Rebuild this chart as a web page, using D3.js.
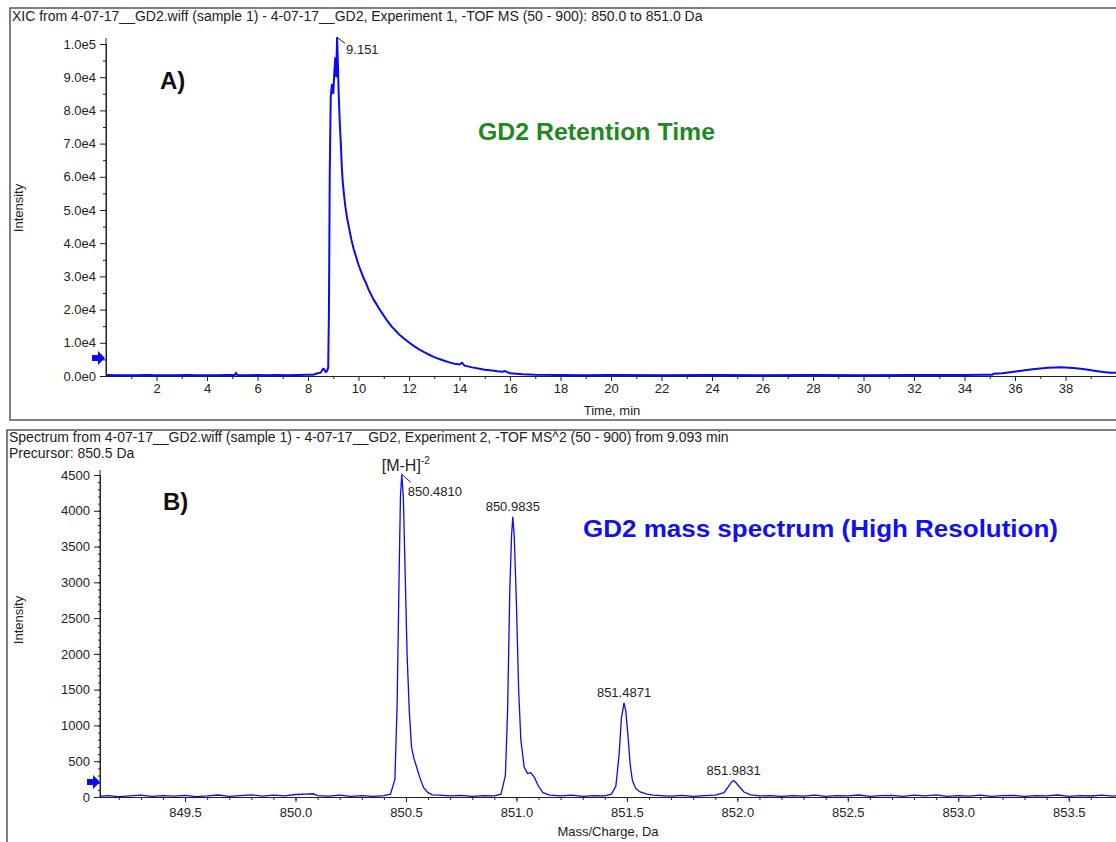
<!DOCTYPE html>
<html>
<head>
<meta charset="utf-8">
<script src="https://cdn.jsdelivr.net/npm/d3@7"></script>
<style>
body { margin: 0; background: #fff; }
svg text { font-family: "Liberation Sans", Arial, sans-serif; fill: #222; }
.axis path, .axis line { stroke: #222; }
.axis text { font-size: 13px; fill: #222; }
</style>
</head>
<body>
<svg id="chart" width="1116" height="842"></svg>
<script>
// XIC (cromatograma) - tiempo en minutos e intensidad
var xicTime = [0.02, 0.4, 0.8, 1.2, 1.6, 2.0, 2.4, 2.8, 3.2, 3.6, 4.0, 4.4, 4.8, 5.1, 5.15, 5.2, 5.6, 6.0, 6.4, 6.8, 7.2, 7.6, 8.0, 8.2, 8.3, 8.4, 8.5, 8.55, 8.6, 8.65, 8.7, 8.75, 8.8, 8.83, 8.86, 8.9, 8.95, 9.0, 9.04, 9.08, 9.12, 9.151, 9.18, 9.22, 9.26, 9.3, 9.34, 9.37, 9.42, 9.48, 9.55, 9.64, 9.72, 9.8, 9.9, 10.0, 10.1, 10.2, 10.3, 10.4, 10.5, 10.6, 10.7, 10.8, 10.9, 11.0, 11.15, 11.3, 11.45, 11.6, 11.8, 12.0, 12.2, 12.4, 12.6, 12.8, 13.0, 13.2, 13.4, 13.6, 13.8, 14.0, 14.1, 14.2, 14.5, 14.8, 15.0, 15.2, 15.5, 15.7, 15.8, 16.0, 16.5, 17.0, 18.0, 19.0, 20.0, 22.0, 24.0, 26.0, 28.0, 30.0, 32.0, 34.0, 34.8, 35.1, 35.15, 35.5, 35.8, 36.1, 36.4, 36.7, 37.0, 37.3, 37.6, 37.8, 38.0, 38.3, 38.6, 38.9, 39.2, 39.5, 39.8, 40.0];
var xicIntensity = [300, 200, 250, 200, 300, 200, 250, 200, 300, 250, 200, 250, 300, 300, 900, 300, 250, 300, 250, 300, 250, 300, 350, 400, 600, 900, 1000, 1600, 2200, 2000, 1200, 1500, 2500, 20000, 60000, 84000, 88000, 85000, 91000, 96000, 90000, 102000, 95000, 84000, 76000, 70000, 63000, 59000, 55000, 51000, 47500, 44000, 41000, 38500, 36000, 33500, 31500, 29500, 28000, 26000, 24500, 23000, 21800, 20500, 19300, 18200, 16500, 15000, 13800, 12600, 11300, 10100, 9000, 8000, 7200, 6400, 5700, 5100, 4600, 4100, 3700, 3500, 4000, 3100, 2600, 2200, 1900, 1700, 1400, 1300, 1500, 800, 500, 350, 300, 250, 300, 250, 300, 250, 300, 250, 300, 300, 350, 400, 700, 850, 1100, 1400, 1700, 2000, 2250, 2450, 2550, 2600, 2550, 2400, 2150, 1850, 1500, 1200, 1000, 950];
var xicXTicks = [2, 4, 6, 8, 10, 12, 14, 16, 18, 20, 22, 24, 26, 28, 30, 32, 34, 36, 38];
var xicYTicks = [0, 10000, 20000, 30000, 40000, 50000, 60000, 70000, 80000, 90000, 100000];
var xicYLabels = ["0.0e0", "1.0e4", "2.0e4", "3.0e4", "4.0e4", "5.0e4", "6.0e4", "7.0e4", "8.0e4", "9.0e4", "1.0e5"];
var xicApex = 9.151, xicApexInt = 102000, xicThreshold = 5400;

// espectro de masas - m/z e intensidad
var specMz = [849.115, 849.15, 849.20, 849.25, 849.30, 849.35, 849.40, 849.45, 849.50, 849.55, 849.60, 849.65, 849.70, 849.75, 849.80, 849.85, 849.90, 849.95, 850.00, 850.05, 850.08, 850.10, 850.15, 850.20, 850.25, 850.30, 850.35, 850.40, 850.43, 850.45, 850.46, 850.47, 850.475, 850.481, 850.488, 850.495, 850.505, 850.515, 850.525, 850.535, 850.545, 850.555, 850.565, 850.58, 850.60, 850.62, 850.65, 850.70, 850.75, 850.80, 850.85, 850.90, 850.93, 850.95, 850.96, 850.97, 850.978, 850.9835, 850.99, 851.00, 851.01, 851.02, 851.035, 851.05, 851.065, 851.08, 851.10, 851.12, 851.15, 851.20, 851.25, 851.30, 851.35, 851.40, 851.43, 851.45, 851.465, 851.475, 851.4871, 851.495, 851.505, 851.515, 851.525, 851.54, 851.56, 851.59, 851.62, 851.65, 851.70, 851.75, 851.80, 851.85, 851.90, 851.94, 851.96, 851.975, 851.9831, 851.995, 852.01, 852.03, 852.06, 852.10, 852.15, 852.20, 852.25, 852.30, 852.35, 852.40, 852.45, 852.50, 852.55, 852.60, 852.65, 852.70, 852.75, 852.80, 852.85, 852.90, 852.95, 853.00, 853.05, 853.10, 853.15, 853.20, 853.25, 853.30, 853.35, 853.40, 853.45, 853.50, 853.55, 853.60, 853.65, 853.70, 853.714];
var specIntensity = [10, 20, 5, 15, 25, 8, 18, 12, 22, 6, 15, 28, 10, 20, 30, 12, 25, 15, 35, 40, 45, 20, 12, 25, 8, 18, 10, 20, 40, 250, 1300, 3300, 4200, 4510, 4200, 3300, 2000, 1200, 700, 550, 450, 350, 250, 130, 60, 30, 25, 15, 22, 10, 20, 15, 40, 300, 1200, 2900, 3650, 3915, 3650, 2700, 1500, 800, 420, 330, 340, 280, 150, 60, 25, 15, 25, 10, 20, 15, 40, 150, 600, 1100, 1315, 1200, 850, 450, 230, 120, 70, 40, 25, 20, 12, 22, 10, 18, 25, 60, 150, 215, 230, 195, 140, 70, 30, 15, 20, 8, 18, 12, 25, 10, 20, 15, 28, 8, 18, 22, 10, 25, 15, 30, 10, 20, 12, 25, 8, 18, 22, 10, 20, 15, 28, 10, 20, 14, 25, 12, 18];
var specXTicks = [849.5, 850.0, 850.5, 851.0, 851.5, 852.0, 852.5, 853.0, 853.5];
var specYTicks = [0, 500, 1000, 1500, 2000, 2500, 3000, 3500, 4000, 4500];
var specPeaks = [850.4810, 850.9835, 851.4871, 851.9831];
var specPeakInt = [4510, 3915, 1315, 230];
var specThreshold = 210;

var svg = d3.select("#chart");
var azul = "#0a0af5";

function flecha(g, x, y) {   // marcador azul del umbral
	g.append("path")
		.attr("d", "M-13,-3 L-7,-3 L-7,-7 L0,0 L-7,7 L-7,3 L-13,3 Z")
		.attr("transform", "translate(" + x + "," + y + ")")
		.attr("fill", azul);
}

// ---------- panel A ----------
var pA = svg.append("g");
pA.append("rect").attr("x", 10).attr("y", 8).attr("width", 1120).attr("height", 412)
	.attr("fill", "none").attr("stroke", "#555").attr("stroke-width", 1.5);
pA.append("text").attr("x", 12).attr("y", 21).style("font-size", "14px")
	.text("XIC from 4-07-17__GD2.wiff (sample 1) - 4-07-17__GD2, Experiment 1, -TOF MS (50 - 900): 850.0 to 851.0 Da");

var xA = d3.scaleLinear().domain([0, 40]).range([106, 1116]);
var yA = d3.scaleLinear().domain([0, 100000]).range([376, 44]);

pA.append("g").attr("class", "axis").attr("transform", "translate(0,376)")
	.call(d3.axisBottom(xA).tickValues(xicXTicks).tickFormat(d3.format("d")).tickSize(5).tickSizeOuter(0).tickPadding(3));
pA.append("g").attr("class", "axis").attr("transform", "translate(0,376)")
	.call(d3.axisBottom(xA).tickValues(d3.range(1, 40, 2)).tickFormat("").tickSize(3).tickSizeOuter(0));
pA.append("g").attr("class", "axis").attr("transform", "translate(106,0)")
	.call(d3.axisLeft(yA).tickValues(xicYTicks).tickFormat(function(d, i){ return xicYLabels[i]; }).tickSize(6).tickSizeOuter(0).tickPadding(4));
pA.append("g").attr("class", "axis").attr("transform", "translate(106,0)")
	.call(d3.axisLeft(yA).tickValues(d3.range(5000, 100000, 10000)).tickFormat("").tickSize(3).tickSizeOuter(0));
pA.append("line").attr("x1", 106).attr("x2", 106).attr("y1", 38).attr("y2", 376).attr("stroke", "#222");

pA.append("path")
	.datum(xicTime.map(function(t, i){ return [t, xicIntensity[i]]; }))
	.attr("fill", "none").attr("stroke", azul).attr("stroke-width", 2)
	.attr("d", d3.line().x(function(d){ return xA(d[0]); }).y(function(d){ return yA(d[1]); }));

flecha(pA, 105, yA(xicThreshold));

pA.append("text").attr("x", 612).attr("y", 415).attr("text-anchor", "middle").style("font-size", "13px").text("Time, min");
pA.append("text").attr("transform", "translate(23,208) rotate(-90)").attr("text-anchor", "middle").style("font-size", "13px").text("Intensity");

pA.append("path").attr("d", "M" + xA(xicApex) + "," + yA(xicApexInt) + " l8,6")
	.attr("stroke", "#222").attr("fill", "none");
pA.append("text").attr("x", xA(xicApex) + 9).attr("y", yA(xicApexInt) + 17).style("font-size", "13px").text("9.151");

pA.append("text").attr("x", 160).attr("y", 89).style("font-size", "24px").style("font-weight", "bold").style("fill", "#111").text("A)");
pA.append("text").attr("x", 478).attr("y", 140).attr("textLength", 237).attr("lengthAdjust", "spacingAndGlyphs")
	.style("font-size", "23px").style("font-weight", "bold").style("fill", "#1e8a1e").text("GD2 Retention Time");

// ---------- panel B ----------
var pB = svg.append("g");
pB.append("rect").attr("x", 7).attr("y", 430).attr("width", 1120).attr("height", 420)
	.attr("fill", "none").attr("stroke", "#555").attr("stroke-width", 1.5);
pB.append("text").attr("x", 9).attr("y", 442).style("font-size", "14px")
	.text("Spectrum from 4-07-17__GD2.wiff (sample 1) - 4-07-17__GD2, Experiment 2, -TOF MS^2 (50 - 900) from 9.093 min");
pB.append("text").attr("x", 9).attr("y", 458).style("font-size", "14px").text("Precursor: 850.5 Da");

var xB = d3.scaleLinear().domain([849.115, 853.714]).range([100, 1116]);
var yB = d3.scaleLinear().domain([0, 4500]).range([797, 475]);

pB.append("g").attr("class", "axis").attr("transform", "translate(0,797)")
	.call(d3.axisBottom(xB).tickValues(specXTicks).tickFormat(d3.format(".1f")).tickSize(5).tickSizeOuter(0).tickPadding(6));
pB.append("g").attr("class", "axis").attr("transform", "translate(0,797)")
	.call(d3.axisBottom(xB).tickValues(d3.range(849.2, 853.7, 0.1)).tickFormat("").tickSize(3).tickSizeOuter(0));
pB.append("g").attr("class", "axis").attr("transform", "translate(100,0)")
	.call(d3.axisLeft(yB).tickValues(specYTicks).tickFormat(d3.format("d")).tickSize(6).tickSizeOuter(0).tickPadding(4));
pB.append("g").attr("class", "axis").attr("transform", "translate(100,0)")
	.call(d3.axisLeft(yB).tickValues(d3.range(100, 4600, 100)).tickFormat("").tickSize(2).tickSizeOuter(0));
pB.append("line").attr("x1", 100).attr("x2", 100).attr("y1", 470).attr("y2", 797).attr("stroke", "#222");

pB.append("path")
	.datum(specMz.map(function(m, i){ return [m, specIntensity[i]]; }))
	.attr("fill", "none").attr("stroke", azul).attr("stroke-width", 1.3)
	.attr("d", d3.line().x(function(d){ return xB(d[0]); }).y(function(d){ return yB(d[1]); }));

flecha(pB, 100, yB(specThreshold));

pB.append("text").attr("x", 608).attr("y", 836).attr("text-anchor", "middle").style("font-size", "13px").text("Mass/Charge, Da");
pB.append("text").attr("transform", "translate(23,620) rotate(-90)").attr("text-anchor", "middle").style("font-size", "13px").text("Intensity");

// etiquetas de picos
pB.append("path").attr("d", "M" + xB(specPeaks[0]) + "," + yB(specPeakInt[0]) + " l9,8")
	.attr("stroke", "#222").attr("fill", "none");
pB.append("text").attr("x", xB(specPeaks[0]) + 6).attr("y", yB(specPeakInt[0]) + 22).style("font-size", "13px")
	.text(d3.format(".4f")(specPeaks[0]));
specPeaks.forEach(function(p, i){
	if (i === 0) return;
	pB.append("text").attr("x", xB(p)).attr("y", yB(specPeakInt[i]) - 6).attr("text-anchor", "middle")
		.style("font-size", "13px").text(d3.format(".4f")(p));
});
var mh = pB.append("text").attr("x", xB(specPeaks[0]) - 20).attr("y", 471).style("font-size", "16px");
mh.append("tspan").text("[M-H]");
mh.append("tspan").attr("dy", -7).style("font-size", "10px").text("-2");

pB.append("text").attr("x", 163).attr("y", 510).style("font-size", "24px").style("font-weight", "bold").style("fill", "#111").text("B)");
pB.append("text").attr("x", 583).attr("y", 537).attr("textLength", 475).attr("lengthAdjust", "spacingAndGlyphs")
	.style("font-size", "23px").style("font-weight", "bold").style("fill", "#1010f0").text("GD2 mass spectrum (High Resolution)");
</script>
</body>
</html>
